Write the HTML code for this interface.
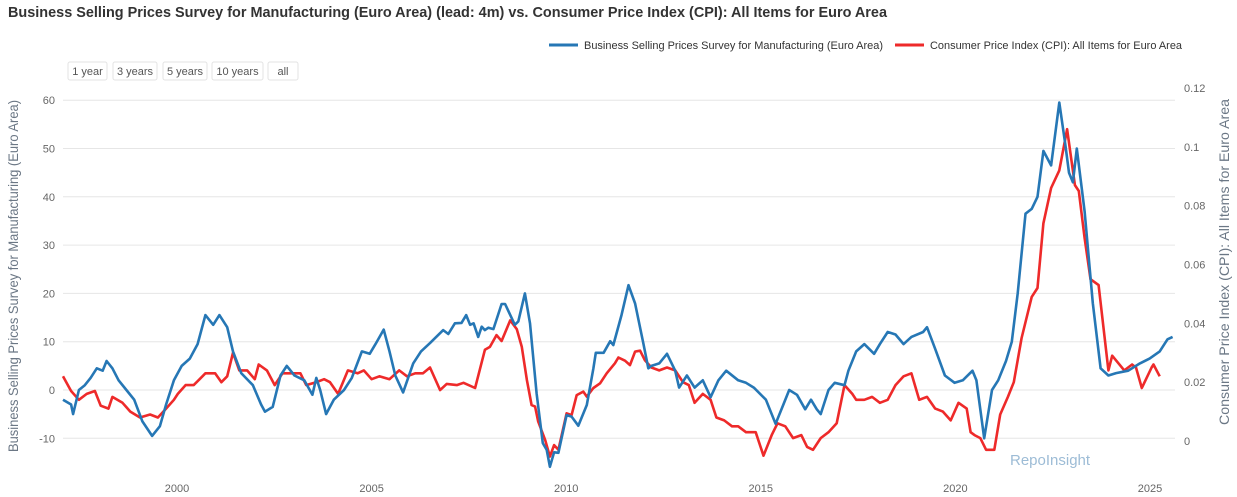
<!DOCTYPE html>
<html><head><meta charset="utf-8"><style>
body{margin:0;background:#fff;}
svg{display:block;font-family:"Liberation Sans",sans-serif;}
</style></head><body>
<svg id="chart" width="1237" height="497" viewBox="0 0 1237 497" xmlns="http://www.w3.org/2000/svg">
<text x="8" y="17" font-size="15" font-weight="bold" fill="#333" textLength="879" lengthAdjust="spacingAndGlyphs">Business Selling Prices Survey for Manufacturing (Euro Area) (lead: 4m) vs. Consumer Price Index (CPI): All Items for Euro Area</text>
<g>
<g><line x1="549" y1="45" x2="578" y2="45" stroke="#2677b5" stroke-width="3"/><text x="584" y="49" font-size="11" fill="#333" textLength="299" lengthAdjust="spacingAndGlyphs">Business Selling Prices Survey for Manufacturing (Euro Area)</text></g>
<g><line x1="895" y1="45" x2="924" y2="45" stroke="#ee2a2a" stroke-width="3"/><text x="930" y="49" font-size="11" fill="#333" textLength="252" lengthAdjust="spacingAndGlyphs">Consumer Price Index (CPI): All Items for Euro Area</text></g>
</g>
<g font-size="11" fill="#555">
<g><rect x="68" y="62" width="39" height="18" rx="2" fill="#fff" stroke="#e3e3e3"/><text x="87.5" y="75" text-anchor="middle" fill="#555">1 year</text></g>
<g><rect x="113" y="62" width="44" height="18" rx="2" fill="#fff" stroke="#e3e3e3"/><text x="135" y="75" text-anchor="middle" fill="#555">3 years</text></g>
<g><rect x="163" y="62" width="44" height="18" rx="2" fill="#fff" stroke="#e3e3e3"/><text x="185" y="75" text-anchor="middle" fill="#555">5 years</text></g>
<g><rect x="212" y="62" width="51" height="18" rx="2" fill="#fff" stroke="#e3e3e3"/><text x="237.5" y="75" text-anchor="middle" fill="#555">10 years</text></g>
<g><rect x="268" y="62" width="30" height="18" rx="2" fill="#fff" stroke="#e3e3e3"/><text x="283" y="75" text-anchor="middle" fill="#555">all</text></g>
</g>
<g id="grid"></g>
<g id="axes"></g>
<text transform="translate(18,276) rotate(-90)" text-anchor="middle" font-size="14" fill="#6b7785" textLength="352" lengthAdjust="spacingAndGlyphs">Business Selling Prices Survey for Manufacturing (Euro Area)</text>
<text transform="translate(1229,262) rotate(-90)" text-anchor="middle" font-size="14" fill="#6b7785" textLength="326" lengthAdjust="spacingAndGlyphs">Consumer Price Index (CPI): All Items for Euro Area</text>
<text x="1010" y="465" font-size="15" fill="#9dbcd6">RepoInsight</text>
<g id="series"></g>
</svg>
<script>
const leftTicks=[-10,0,10,20,30,40,50,60];
const rightTicks=[0,0.02,0.04,0.06,0.08,0.1,0.12];
const rightTickLabels=["0","0.02","0.04","0.06","0.08","0.1","0.12"];
const xTicks=[2000,2005,2010,2015,2020,2025];
const bspsDates=[1997.07,1997.28,1997.33,1997.48,1997.63,1997.78,1997.94,1998.09,1998.19,1998.34,1998.50,1998.70,1998.90,1999.11,1999.36,1999.56,1999.72,1999.92,2000.12,2000.33,2000.53,2000.73,2000.93,2001.09,2001.29,2001.44,2001.65,2001.95,2002.16,2002.26,2002.46,2002.66,2002.82,2003.02,2003.27,2003.48,2003.58,2003.68,2003.83,2004.03,2004.29,2004.49,2004.75,2004.95,2005.10,2005.31,2005.46,2005.61,2005.81,2006.07,2006.27,2006.50,2006.84,2006.97,2007.14,2007.31,2007.43,2007.53,2007.62,2007.74,2007.83,2007.91,2008.00,2008.13,2008.34,2008.43,2008.68,2008.77,2008.94,2009.07,2009.24,2009.40,2009.50,2009.58,2009.69,2009.80,2010.01,2010.14,2010.31,2010.53,2010.70,2010.76,2010.96,2011.13,2011.21,2011.42,2011.60,2011.77,2011.98,2012.11,2012.19,2012.39,2012.59,2012.80,2012.90,2013.10,2013.30,2013.51,2013.71,2013.91,2014.11,2014.42,2014.62,2014.82,2015.13,2015.38,2015.58,2015.73,2015.93,2016.14,2016.29,2016.44,2016.54,2016.74,2016.90,2017.15,2017.25,2017.45,2017.66,2017.91,2018.06,2018.26,2018.46,2018.67,2018.87,2019.17,2019.27,2019.48,2019.73,2019.98,2020.19,2020.44,2020.54,2020.74,2020.94,2021.10,2021.30,2021.45,2021.60,2021.80,2021.96,2022.11,2022.26,2022.46,2022.67,2022.82,2022.92,2023.02,2023.12,2023.32,2023.53,2023.73,2023.93,2024.13,2024.44,2024.74,2024.99,2025.25,2025.45,2025.58];
const bspsValues=[-2,-3,-5,0,1,2.5,4.5,4,6,4.5,2,0,-2,-6.5,-9.5,-7.5,-3,2,5,6.5,9.5,15.5,13.5,15.5,13,8,3.5,1,-3,-4.5,-3.5,3,5,3,2,-1,2.5,0,-5,-2,0,2.5,8,7.5,9.5,12.5,8,3,-0.5,5.5,8,9.7,12.4,11.6,13.8,13.9,15.5,13.5,13.8,11.0,13.1,12.4,12.9,12.6,17.8,17.8,13.5,14.2,20.0,13.8,-0.7,-11,-12.4,-15.9,-12.9,-13,-5.2,-5.5,-7.4,-3.1,4.5,7.7,7.7,10.1,9.3,15.5,21.7,17.9,9.7,4.5,5,5.5,7.5,4,0.5,3,0.5,2,-1.5,2,4,2,1.5,0.5,-2,-7,-3,0,-1,-4,-2,-4,-5,0,1.5,1,4,8,9.5,7.5,9.5,12,11.5,9.5,11,12,13,8.5,3,1.5,2,4,2,-10,0,2,6,10,20,36.5,37.5,40,49.5,46.5,59.5,51,45,43,50,37,18,4.5,3,3.5,4,5.5,6.5,8,10.5,11];
const cpiDates=[1997.07,1997.28,1997.48,1997.68,1997.89,1998.04,1998.24,1998.34,1998.60,1998.80,1999.05,1999.31,1999.51,1999.72,1999.92,2000.02,2000.22,2000.43,2000.58,2000.73,2000.98,2001.14,2001.29,2001.44,2001.60,2001.80,2002.00,2002.10,2002.31,2002.51,2002.71,2002.97,2003.17,2003.32,2003.58,2003.78,2003.93,2004.14,2004.39,2004.64,2004.80,2005.00,2005.20,2005.46,2005.71,2005.91,2006.12,2006.32,2006.50,2006.76,2006.93,2007.19,2007.36,2007.66,2007.91,2008.04,2008.21,2008.34,2008.56,2008.73,2008.86,2008.99,2009.11,2009.20,2009.28,2009.46,2009.58,2009.69,2009.80,2010.01,2010.14,2010.27,2010.44,2010.53,2010.70,2010.87,2011.04,2011.25,2011.34,2011.51,2011.64,2011.77,2011.90,2012.02,2012.19,2012.39,2012.59,2012.80,2013.00,2013.15,2013.30,2013.51,2013.71,2013.86,2014.06,2014.26,2014.42,2014.62,2014.87,2015.07,2015.28,2015.43,2015.63,2015.83,2016.04,2016.19,2016.34,2016.54,2016.74,2016.95,2017.15,2017.35,2017.45,2017.66,2017.86,2018.06,2018.26,2018.46,2018.67,2018.87,2019.07,2019.27,2019.48,2019.68,2019.88,2020.08,2020.29,2020.39,2020.49,2020.64,2020.79,2021.00,2021.15,2021.35,2021.50,2021.70,2021.96,2022.11,2022.26,2022.46,2022.67,2022.87,2023.07,2023.17,2023.32,2023.47,2023.68,2023.93,2024.03,2024.34,2024.54,2024.64,2024.79,2025.04,2025.09,2025.25];
const cpiPct=[2.2,1.7,1.4,1.6,1.7,1.2,1.1,1.5,1.3,1.0,0.8,0.9,0.8,1.1,1.4,1.6,1.9,1.9,2.1,2.3,2.3,2.0,2.2,3.0,2.4,2.4,2.1,2.6,2.4,1.9,2.3,2.3,2.3,1.9,2.0,2.1,2.0,1.6,2.4,2.3,2.4,2.1,2.2,2.1,2.4,2.2,2.3,2.3,2.5,1.73,1.94,1.9,1.98,1.8,3.1,3.2,3.6,3.4,4.1,3.8,3.2,2.07,1.22,1.17,0.66,0.03,-0.53,-0.14,-0.3,0.94,0.88,1.56,1.68,1.51,1.8,1.96,2.3,2.64,2.84,2.73,2.58,3.04,3.07,2.75,2.5,2.4,2.5,2.4,2.0,1.9,1.3,1.6,1.4,0.8,0.7,0.5,0.5,0.3,0.3,-0.5,0.2,0.6,0.5,0.1,0.2,-0.2,-0.3,0.1,0.3,0.6,1.9,1.6,1.4,1.4,1.5,1.3,1.4,1.9,2.2,2.3,1.4,1.5,1.1,1.0,0.7,1.3,1.1,0.3,0.2,0.1,-0.3,-0.3,0.9,1.5,2.0,3.5,4.9,5.2,7.4,8.6,9.2,10.6,8.7,8.5,6.9,5.5,5.3,2.4,2.9,2.4,2.6,2.5,1.8,2.5,2.6,2.2];

const NS="http://www.w3.org/2000/svg";
const X0=63,X1=1175,Y2000=177,PXYR=38.92;
function xs(yr){return Y2000+(yr-2000)*PXYR;}
function yl(v){return 390-v*4.83;}
function yr(v){return 441-v*2941.7;}
function mk(tag,attrs,parent){const e=document.createElementNS(NS,tag);for(const k in attrs)e.setAttribute(k,attrs[k]);parent.appendChild(e);return e;}
const grid=document.getElementById('grid'),axes=document.getElementById('axes'),series=document.getElementById('series');
leftTicks.forEach(t=>{
  const l=mk('line',{x1:X0,x2:X1,y1:yl(t),y2:yl(t),stroke:'#e6e6e6','stroke-width':1},grid);
  
  
  const tx=mk('text',{x:55,y:yl(t)+4,'text-anchor':'end','font-size':11,fill:'#666'},axes);
  tx.textContent=String(t);
  
  
});
rightTicks.forEach((t,i)=>{
  const tx=mk('text',{x:1184,y:yr(t)+4,'font-size':11,fill:'#666'},axes);
  tx.textContent=rightTickLabels[i];
  
  
});
xTicks.forEach(t=>{
  const tx=mk('text',{x:xs(t),y:492,'text-anchor':'middle','font-size':11,fill:'#666'},axes);
  tx.textContent=String(t);
  
  
});
function path(dates,vals,fy){return dates.map((d,i)=>(i?'L':'M')+xs(d).toFixed(1)+','+fy(vals[i]).toFixed(1)).join('');}
const cpiLine=mk('path',{d:path(cpiDates,cpiPct,v=>yr(v/100)),fill:'none',stroke:'#ee2a2a','stroke-width':2.6,'stroke-linejoin':'round'},series);


const bLine=mk('path',{d:path(bspsDates,bspsValues,yl),fill:'none',stroke:'#2677b5','stroke-width':2.6,'stroke-linejoin':'round'},series);


</script>
</body></html>
